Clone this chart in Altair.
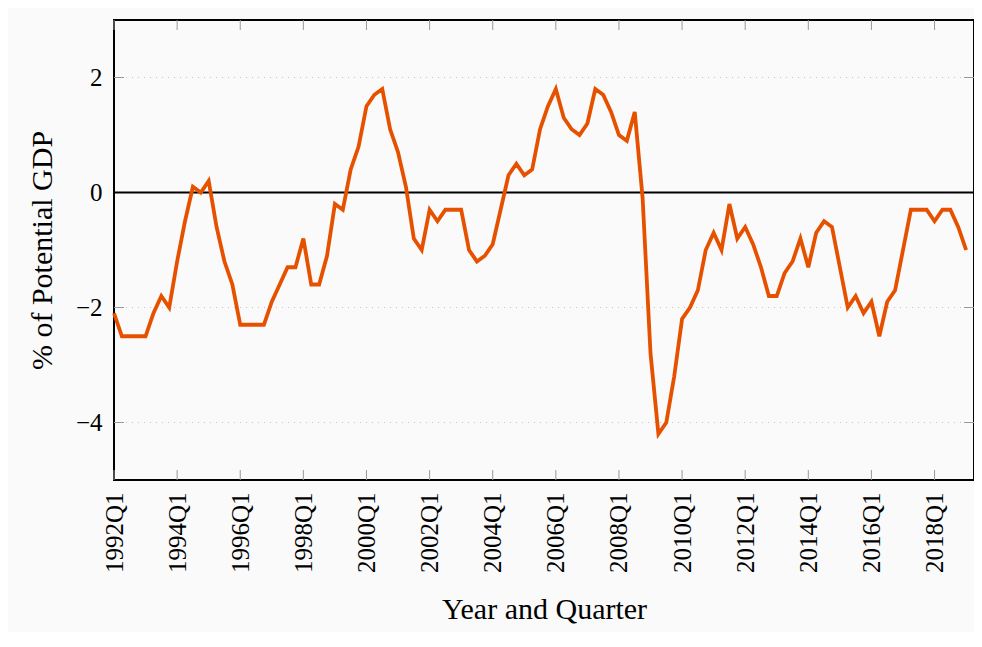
import altair as alt
import pandas as pd

# Output gap, % of potential GDP, quarterly from 1992Q1 to 2019Q1
gap = [
    -2.1, -2.5, -2.5, -2.5, -2.5, -2.1, -1.8, -2.0,   # 1992-1993
    -1.2, -0.5, 0.1, 0.0, 0.2, -0.6, -1.2, -1.6,      # 1994-1995
    -2.3, -2.3, -2.3, -2.3, -1.9, -1.6, -1.3, -1.3,   # 1996-1997
    -0.8, -1.6, -1.6, -1.1, -0.2, -0.3, 0.4, 0.8,     # 1998-1999
    1.5, 1.7, 1.8, 1.1, 0.7, 0.1, -0.8, -1.0,         # 2000-2001
    -0.3, -0.5, -0.3, -0.3, -0.3, -1.0, -1.2, -1.1,   # 2002-2003
    -0.9, -0.3, 0.3, 0.5, 0.3, 0.4, 1.1, 1.5,         # 2004-2005
    1.8, 1.3, 1.1, 1.0, 1.2, 1.8, 1.7, 1.4,           # 2006-2007
    1.0, 0.9, 1.4, -0.1, -2.8, -4.2, -4.0, -3.2,      # 2008-2009
    -2.2, -2.0, -1.7, -1.0, -0.7, -1.0, -0.2, -0.8,   # 2010-2011
    -0.6, -0.9, -1.3, -1.8, -1.8, -1.4, -1.2, -0.8,   # 2012-2013
    -1.3, -0.7, -0.5, -0.6, -1.3, -2.0, -1.8, -2.1,   # 2014-2015
    -1.9, -2.5, -1.9, -1.7, -1.0, -0.3, -0.3, -0.3,   # 2016-2017
    -0.5, -0.3, -0.3, -0.6, -1.0,                     # 2018-2019Q1
]
start_year = 1992
quarters = [f"{start_year + i // 4}Q{i % 4 + 1}" for i in range(len(gap))]
x_tick_idx = list(range(0, len(gap), 8))
x_tick_labels = [quarters[i] for i in x_tick_idx]
y_ticks = [-4, -2, 0, 2]
y_grid = [-4, -2, 2]

W, H = 860, 460
FONT = "Liberation Serif"
LINE_COLOR = "#e65100"
BG = "#fafafa"

df = pd.DataFrame({"idx": list(range(len(gap))), "gap": gap, "quarter": quarters})
xt = pd.DataFrame({"idx": x_tick_idx})
yt = pd.DataFrame({"gap": y_ticks})
yg = pd.DataFrame({"gap": y_grid})
zero = pd.DataFrame({"gap": [0]})

label_array = "[" + ",".join(f"'{s}'" for s in x_tick_labels) + "]"

x_scale = alt.Scale(domain=[0, len(gap)], nice=False, zero=False)
y_scale = alt.Scale(domain=[-5, 3], nice=False)

x_axis = alt.Axis(values=x_tick_idx, labelExpr=f"{label_array}[datum.value/8]",
                  labelAngle=-90, labelPadding=12, ticks=False, domain=False, grid=False,
                  title="Year and Quarter", titlePadding=22)
y_axis = alt.Axis(values=y_ticks, labelPadding=12, ticks=False, domain=False, grid=False,
                  title="% of Potential GDP", titlePadding=18)

X = alt.X("idx:Q", scale=x_scale, axis=x_axis)
Y = alt.Y("gap:Q", scale=y_scale, axis=y_axis)

line = alt.Chart(df).mark_line(color=LINE_COLOR, strokeWidth=3.8, strokeJoin="miter").encode(
    x=X, y=Y
)

grid = alt.Chart(yg).mark_rule(color="#c4c4c4", strokeWidth=1, strokeDash=[1, 5]).encode(
    y=Y, x=alt.value(0), x2=alt.value(W)
)

zero_line = alt.Chart(zero).mark_rule(color="black", strokeWidth=1.8).encode(
    y=Y, x=alt.value(0), x2=alt.value(W)
)

tick_color = "#999999"
x_ticks_bottom = alt.Chart(xt).mark_rule(color=tick_color, strokeWidth=1).encode(
    x=X, y=alt.value(H), y2=alt.value(H - 10)
)
x_ticks_top = alt.Chart(xt).mark_rule(color=tick_color, strokeWidth=1).encode(
    x=X, y=alt.value(0), y2=alt.value(10)
)
y_ticks_left = alt.Chart(yt).mark_rule(color=tick_color, strokeWidth=1).encode(
    y=Y, x=alt.value(0), x2=alt.value(10)
)
y_ticks_right = alt.Chart(yt).mark_rule(color=tick_color, strokeWidth=1).encode(
    y=Y, x=alt.value(W), x2=alt.value(W - 10)
)

chart = alt.layer(
    grid, x_ticks_bottom, x_ticks_top, y_ticks_left, y_ticks_right, zero_line, line
).properties(
    width=W, height=H,
    autosize=alt.AutoSizeParams(type="none"),
    padding={"left": 106, "top": 12, "right": 0, "bottom": 152},
    background=BG,
).configure_view(
    stroke="black", strokeWidth=2, fill=BG
).configure_axis(
    labelFont=FONT, labelFontSize=25, labelColor="black",
    titleFont=FONT, titleFontSize=30, titleFontWeight="normal", titleColor="black",
)

chart.save("out.html", embed_options={"renderer": "svg", "actions": False})
